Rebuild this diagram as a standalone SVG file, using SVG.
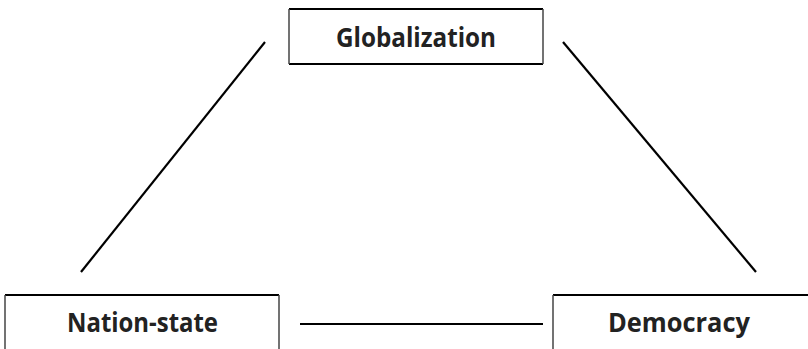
<svg xmlns="http://www.w3.org/2000/svg" width="808" height="349" viewBox="0 0 808 349">
<style>
.h{stroke:#000;stroke-width:2.2}
.v{stroke:#444;stroke-width:1.5}
.t{font-family:"Open Sans","Liberation Sans",sans-serif;font-weight:bold;font-size:26px;fill:#222;text-anchor:middle}
.c{stroke:#000;stroke-width:2.2;fill:none}
</style>
<rect width="808" height="349" fill="#fff"/>
<g id="globalization">
<line class="h" x1="289" y1="9" x2="543" y2="9"/>
<line class="h" x1="289" y1="64" x2="543" y2="64"/>
<line class="v" x1="289" y1="9" x2="289" y2="64"/>
<line class="v" x1="543" y1="9" x2="543" y2="64"/>
<text class="t" x="416" y="47" textLength="160" lengthAdjust="spacingAndGlyphs">Globalization</text>
</g>
<g id="nation-state">
<line class="h" x1="5" y1="295" x2="279" y2="295"/>
<line class="v" x1="5" y1="295" x2="5" y2="349"/>
<line class="v" x1="279" y1="295" x2="279" y2="349"/>
<text class="t" x="142.5" y="332" textLength="151" lengthAdjust="spacingAndGlyphs">Nation-state</text>
</g>
<g id="democracy">
<line class="h" x1="553" y1="295" x2="808" y2="295"/>
<line class="v" x1="553" y1="295" x2="553" y2="349"/>
<text class="t" x="679" y="332" textLength="142" lengthAdjust="spacingAndGlyphs">Democracy</text>
</g>
<g id="connectors">
<line class="c" x1="265" y1="42" x2="81" y2="272"/>
<line class="c" x1="563" y1="42" x2="756" y2="272"/>
<line class="c" x1="300" y1="324" x2="543" y2="324"/>
</g>
</svg>
